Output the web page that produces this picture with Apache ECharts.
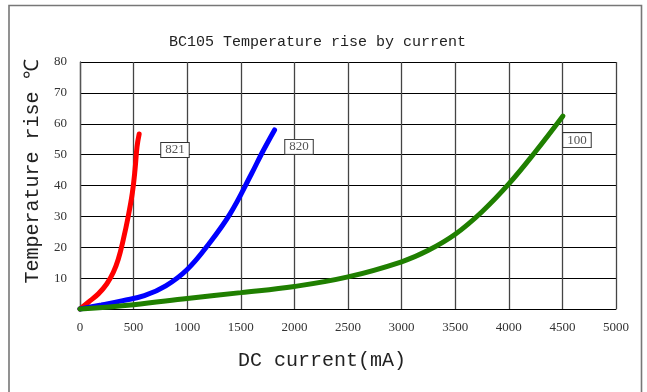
<!DOCTYPE html>
<html><head><meta charset="utf-8">
<script src="https://cdn.jsdelivr.net/npm/echarts@6/dist/echarts.min.js"></script>
<style>html,body{margin:0;padding:0;background:#fff}#c{width:647px;height:392px}</style>
</head><body><div id="c"></div>
<script>
const title = "BC105 Temperature rise by current";
const xName = "DC current(mA)";
const yName = "Temperature rise ℃";
const xTicks = [0,500,1000,1500,2000,2500,3000,3500,4000,4500,5000];
const yTicks = [10,20,30,40,50,60,70,80];

const s821_x = [0, 78, 171, 249, 311, 357, 404, 450, 488, 513, 532, 552];
const s821_y = [0, 2.2, 4.9, 8.1, 11.9, 16.1, 22.5, 30, 37.5, 45, 52.6, 56.7];
const s820_x = [0, 200, 400, 600, 800, 1000, 1200, 1400, 1600, 1700, 1815];
const s820_y = [0, 1.3, 2.7, 4.3, 7.5, 12.8, 21, 30.8, 43.8, 50.7, 58];
const s100_x = [0, 500, 1000, 1500, 2000, 2500, 3000, 3250, 3500, 3750, 4000, 4250, 4505];
const s100_y = [0, 1.4, 3.4, 5.3, 7.3, 10.4, 15.3, 19, 24.2, 31.5, 40.5, 51, 62.5];
const labelNames = ["821", "820", "100"];
const labelX = [886, 2043, 4636];
const labelY = [51.5, 52.5, 54.7];
const colors = ["#ff0000", "#0000ff", "#1f7f00"];

function pairs(xs, ys){ return xs.map((x,i)=>[x, ys[i]]); }
const allX = [s821_x, s820_x, s100_x];
const allY = [s821_y, s820_y, s100_y];

const chart = echarts.init(document.getElementById('c'));
const serif = "Liberation Serif";
const mono = "Liberation Mono";
chart.setOption({
  animation: false,
  backgroundColor: '#fff',
  title: { text: title, left: 164, top: 30, textStyle: { fontFamily: mono, fontSize: 15, fontWeight: 'normal', color: '#222' } },
  graphic: [{ type: 'rect', shape: { x: 9, y: 5.5, width: 632.5, height: 400 }, style: { fill: 'none', stroke: '#777', lineWidth: 1.6 }, silent: true }],
  grid: { left: 80, right: 31, top: 62, bottom: 83 },
  xAxis: {
    type: 'value', min: 0, max: 5000, interval: 500,
    name: xName, nameLocation: 'middle', nameGap: 42,
    nameTextStyle: { fontFamily: mono, fontSize: 20, color: '#222', padding: [0, 52, 0, 0] },
    axisLine: { show: true, lineStyle: { color: '#000', width: 1 } },
    axisTick: { show: false },
    splitLine: { show: true, lineStyle: { color: '#444', width: 1.3 } },
    axisLabel: { fontFamily: serif, fontSize: 13, color: '#333', margin: 12,
      formatter: v => xTicks.includes(v) ? String(v) : '' }
  },
  yAxis: {
    type: 'value', min: 0, max: 80, interval: 10,
    name: yName, nameLocation: 'middle', nameGap: 36, nameRotate: 90,
    nameTextStyle: { fontFamily: mono, fontSize: 20, color: '#222', padding: [0, 0, 0, 28] },
    axisLine: { show: true, lineStyle: { color: '#555', width: 1.3 } },
    axisTick: { show: false },
    splitLine: { show: true, lineStyle: { color: '#000', width: 1 } },
    axisLabel: { fontFamily: serif, fontSize: 13, color: '#333', margin: 13,
      formatter: v => yTicks.includes(v) ? String(v) : '' }
  },
  series: allX.map((xs, i) => ({
    type: 'line', smooth: 0.4, symbol: 'none', clip: false,
    data: pairs(xs, allY[i]),
    lineStyle: { color: colors[i], width: 5, cap: 'round' },
    itemStyle: { color: colors[i] },
    markPoint: {
      symbol: 'rect', symbolSize: 0,
      data: [{ coord: [labelX[i], labelY[i]], value: labelNames[i] }],
      label: { show: true, position: 'inside', formatter: labelNames[i],
        fontFamily: serif, fontSize: 13, color: '#555', backgroundColor: '#fff',
        borderColor: '#333', borderWidth: 1, padding: [1, 4, 0, 4] }
    }
  }))
});
</script></body></html>
